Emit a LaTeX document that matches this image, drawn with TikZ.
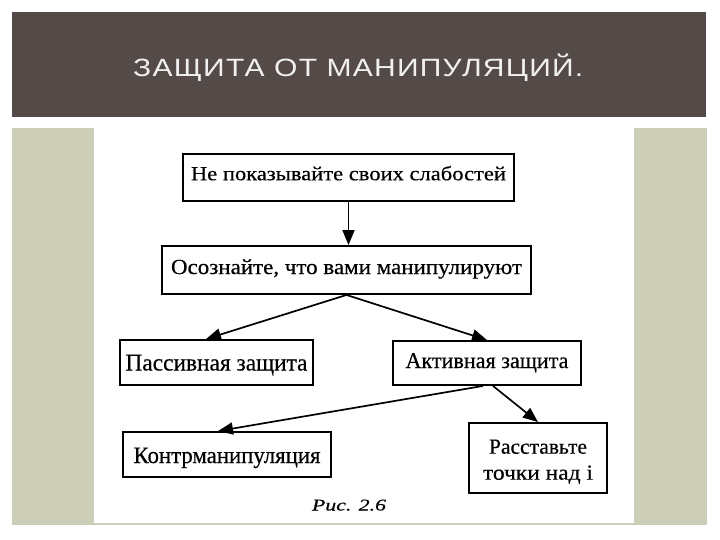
\documentclass[tikz,border=0pt]{standalone}
\usepackage{fontspec}
\setmainfont[FakeBold=0.4]{Liberation Serif}
\newfontfamily\titlefont[LetterSpace=4]{Liberation Sans}
\usetikzlibrary{arrows.meta,calc}
\newcommand{\fitw}[2]{\resizebox{#1}{\height}{#2}}
\newcommand{\fsz}[1]{\fontsize{#1}{26pt}\selectfont}
\definecolor{barcol}{RGB}{84,75,72}
\definecolor{panelcol}{RGB}{204,206,184}
\begin{document}
\begin{tikzpicture}[x=1pt,y=-1pt,
  box/.style={draw=black, line width=1.9pt, inner sep=0pt, text depth=0pt},
  arr/.style={draw=black, line width=1.7pt, -{Triangle[length=15pt,width=12pt]}}]
\useasboundingbox (0,0) rectangle (720,540);
\fill[white] (0,0) rectangle (720,540);
\fill[barcol] (12,12) rectangle (706,117);
\fill[panelcol] (12,128) rectangle (707,525);
\fill[white] (94,128) rectangle (634,523);
\node[text=white!94!black, inner sep=0pt, anchor=base west, font=\titlefont\fontsize{25pt}{30pt}\selectfont] (title) at (133,77) {\fitw{450pt}{ЗАЩИТА ОТ МАНИПУЛЯЦИЙ.}};
\node[box, minimum width=331, minimum height=47, text height=5.5pt, font=\fsz{20pt}] (b1) at (348.5,177.5) {\fitw{315pt}{Не показывайте своих слабостей}};
\node[box, minimum width=369, minimum height=48, text height=8pt, font=\fsz{21.5pt}] (b2) at (346.5,270) {\fitw{351pt}{Осознайте, что вами манипулируют}};
\node[box, minimum width=193, minimum height=45, text height=16pt, font=\fsz{24pt}] (passive) at (216.5,362.5) {\fitw{182pt}{Пассивная защита}};
\node[box, minimum width=188, minimum height=44, text height=10pt, font=\fsz{22.5pt}] (active) at (487,363) {\fitw{163pt}{Активная защита}};
\node[box, minimum width=208, minimum height=45, text height=17pt, font=\fsz{23.5pt}] (contr) at (227,454.5) {\fitw{187pt}{Контрманипуляция}};
\node[draw=black, line width=1.9pt, inner sep=0pt, minimum width=138, minimum height=70, align=center, font=\fsz{21.5pt}] (rass) at (538,458) {\rule{0pt}{25.4pt}\fitw{98pt}{Расставьте}\\\rule[-8pt]{0pt}{8pt}\fitw{110pt}{точки над i}};
\node[inner sep=0pt, anchor=base, font=\itshape\fontsize{16.5pt}{20pt}\selectfont] (cap) at (349,510.5) {\fitw{74pt}{Рис. 2.6}};
\draw[arr] (b1.south) -- (b1.south |- b2.north);
\draw[arr] (b2.south) -- ([xshift=-10.5pt]passive.north);
\draw[arr] (b2.south) -- (active.north);
\draw[arr] ([xshift=-4pt]active.south) -- ([xshift=-9pt]contr.north);
\draw[arr] ([xshift=6pt]active.south) -- (rass.north);
\end{tikzpicture}
\end{document}
